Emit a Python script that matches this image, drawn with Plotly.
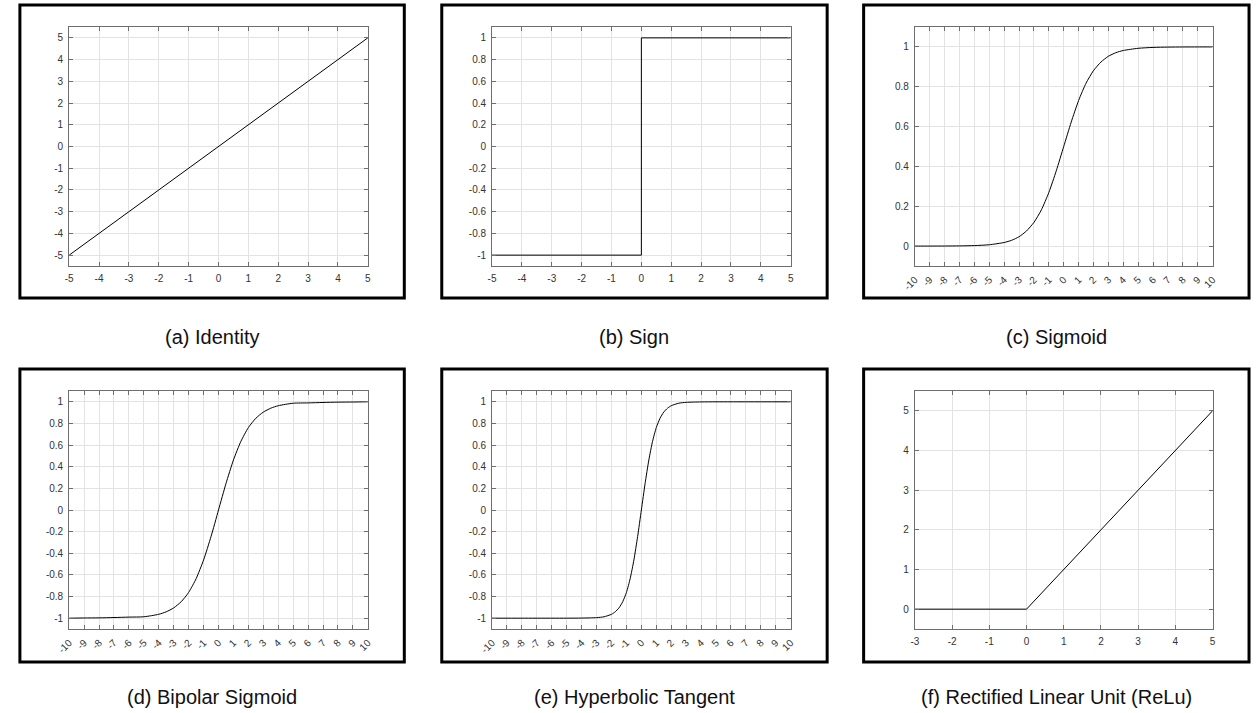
import plotly.graph_objects as go

# ---------------- data ----------------
identity_x = [-5, 5]
identity_y = [-5, 5]

sign_x = [-5, 0, 0, 5]
sign_y = [-1, -1, 1, 1]

sigmoid_x = [-10, -9, -8, -7, -6, -5, -4, -3.5, -3, -2.5, -2, -1.5, -1, -0.5, 0,
             0.5, 1, 1.5, 2, 2.5, 3, 3.5, 4, 5, 6, 7, 8, 9, 10]
sigmoid_y = [0.0, 0.0001, 0.0003, 0.0009, 0.0025, 0.0067, 0.018, 0.029, 0.047, 0.076,
             0.119, 0.182, 0.269, 0.378, 0.5, 0.622, 0.731, 0.818, 0.881, 0.924,
             0.953, 0.971, 0.982, 0.993, 0.9975, 0.9991, 0.9997, 0.9999, 1.0]

bipolar_x = [-10, -9, -8, -7, -6, -5, -4, -3.5, -3, -2.5, -2, -1.5, -1, -0.5, 0,
             0.5, 1, 1.5, 2, 2.5, 3, 3.5, 4, 5, 6, 7, 8, 9, 10]
bipolar_y = [-1.0, -0.998, -0.997, -0.994, -0.990, -0.987, -0.964, -0.941, -0.905, -0.848,
             -0.762, -0.635, -0.462, -0.245, 0.0, 0.245, 0.462, 0.635, 0.762, 0.848,
             0.905, 0.941, 0.964, 0.987, 0.990, 0.994, 0.997, 0.998, 1.0]

tanh_x = [-10, -8, -6, -5, -4, -3, -2.5, -2, -1.75, -1.5, -1.25, -1, -0.75, -0.5, -0.25, 0,
          0.25, 0.5, 0.75, 1, 1.25, 1.5, 1.75, 2, 2.5, 3, 4, 5, 6, 8, 10]
tanh_y = [-1.0, -1.0, -1.0, -1.0, -0.999, -0.995, -0.987, -0.964, -0.941, -0.905, -0.848,
          -0.762, -0.635, -0.462, -0.245, 0.0, 0.245, 0.462, 0.635, 0.762, 0.848, 0.905,
          0.941, 0.964, 0.987, 0.995, 0.999, 1.0, 1.0, 1.0, 1.0]

relu_x = [-3, 0, 5]
relu_y = [0, 0, 5]

ticks_5 = [-5, -4, -3, -2, -1, 0, 1, 2, 3, 4, 5]
ticks_5_text = ["-5", "-4", "-3", "-2", "-1", "0", "1", "2", "3", "4", "5"]
ticks_10 = list(range(-10, 11))
ticks_10_text = [str(v) for v in ticks_10]
ticks_relu_x = [-3, -2, -1, 0, 1, 2, 3, 4, 5]
ticks_relu_x_text = ["-3", "-2", "-1", "0", "1", "2", "3", "4", "5"]
ticks_relu_y = [0, 1, 2, 3, 4, 5]
ticks_relu_y_text = ["0", "1", "2", "3", "4", "5"]
ticks_bip = [-1, -0.8, -0.6, -0.4, -0.2, 0, 0.2, 0.4, 0.6, 0.8, 1]
ticks_bip_text = ["-1", "-0.8", "-0.6", "-0.4", "-0.2", "0", "0.2", "0.4", "0.6", "0.8", "1"]
ticks_sig = [0, 0.2, 0.4, 0.6, 0.8, 1]
ticks_sig_text = ["0", "0.2", "0.4", "0.6", "0.8", "1"]

captions = ["(a) Identity", "(b) Sign", "(c) Sigmoid",
            "(d) Bipolar Sigmoid", "(e) Hyperbolic Tangent", "(f) Rectified Linear Unit (ReLu)"]

# ---------------- layout helpers ----------------
W, H = 1256, 713
def px(x):
    return x / W
def py(y):
    return 1 - y / H

plot_cols = [(57, 360), (486, 789), (915, 1217)]
plot_rows = [(27, 266), (391, 629)]
frame_cols = [(7, 397), (435, 826), (863, 1254)]
frame_rows = [(5, 298), (369, 662)]
caption_y = [337, 697]

panels = [
    (identity_x, identity_y, [-5, 5], [-5.5, 5.5], ticks_5, ticks_5_text, ticks_5, ticks_5_text, 0),
    (sign_x, sign_y, [-5, 5], [-1.1, 1.1], ticks_5, ticks_5_text, ticks_bip, ticks_bip_text, 0),
    (sigmoid_x, sigmoid_y, [-10, 10], [-0.1, 1.1], ticks_10, ticks_10_text, ticks_sig, ticks_sig_text, -45),
    (bipolar_x, bipolar_y, [-10, 10], [-1.1, 1.1], ticks_10, ticks_10_text, ticks_bip, ticks_bip_text, -45),
    (tanh_x, tanh_y, [-10, 10], [-1.1, 1.1], ticks_10, ticks_10_text, ticks_bip, ticks_bip_text, -45),
    (relu_x, relu_y, [-3, 5], [-0.5, 5.5], ticks_relu_x, ticks_relu_x_text, ticks_relu_y, ticks_relu_y_text, 0),
]

fig = go.Figure()
layout = dict(
    width=W, height=H, margin=dict(l=0, r=0, t=0, b=0),
    paper_bgcolor="white", plot_bgcolor="white", showlegend=False,
    font=dict(family="Liberation Sans, Arial, sans-serif", color="#333333"),
)
shapes = []
annotations = []

axis_color = "#6e6e6e"
grid_color = "#e3e3e3"

for i, (xs, ys, xr, yr, xt, xtt, yt, ytt, ang) in enumerate(panels):
    r, c = divmod(i, 3)
    n = "" if i == 0 else str(i + 1)
    smooth = i in (2, 3, 4)
    fig.add_trace(go.Scatter(
        x=xs, y=ys, mode="lines",
        line=dict(color="black", width=1, shape="spline" if smooth else "linear", smoothing=0.6),
        xaxis="x" + n, yaxis="y" + n, hoverinfo="skip"))
    x0, x1 = plot_cols[c]
    y0, y1 = plot_rows[r]
    common = dict(showline=True, linecolor=axis_color, linewidth=1, mirror="ticks",
                  ticks="inside", ticklen=4, tickcolor=axis_color, showgrid=True,
                  gridcolor=grid_color, gridwidth=1, zeroline=False, fixedrange=True,
                  ticklabelstandoff=3,
                  tickfont=dict(size=10, color="#333333"))
    layout["xaxis" + n] = dict(common, domain=[px(x0), px(x1)], range=xr,
                               tickmode="array", tickvals=xt, ticktext=xtt,
                               tickangle=ang, anchor="y" + n)
    layout["yaxis" + n] = dict(common, domain=[py(y1), py(y0)], range=yr,
                               tickmode="array", tickvals=yt, ticktext=ytt,
                               anchor="x" + n)
    fx0, fx1 = frame_cols[c]
    fy0, fy1 = frame_rows[r]
    shapes.append(dict(type="rect", xref="paper", yref="paper",
                       x0=px(fx0), x1=px(fx1), y0=py(fy1), y1=py(fy0),
                       line=dict(color="black", width=3)))
    annotations.append(dict(text=captions[i], xref="paper", yref="paper",
                            x=px((fx0 + fx1) / 2), y=py(caption_y[r]),
                            xanchor="center", yanchor="middle", showarrow=False,
                            font=dict(size=20, color="#111111",
                                      family="Liberation Sans, Arial, sans-serif")))

layout["shapes"] = shapes
layout["annotations"] = annotations
fig.update_layout(**layout)
fig.write_html("out.html")
